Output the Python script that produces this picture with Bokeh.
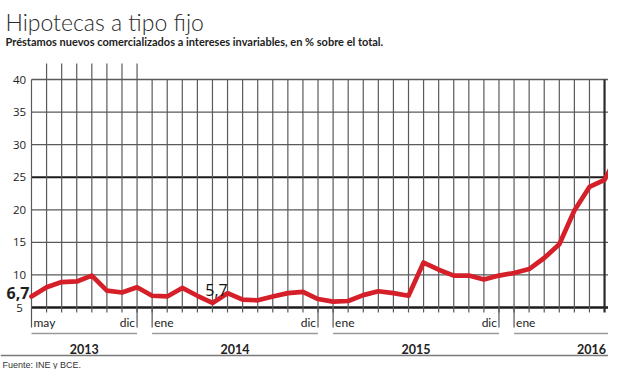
from bokeh.plotting import figure
from bokeh.models import Range1d, ColumnDataSource
from bokeh.embed import file_html
from bokeh.resources import INLINE
from bokeh.core.properties import value

# ---------------- data ----------------
titulo = "Hipotecas a tipo fijo"
subtitulo = "Préstamos nuevos comercializados a intereses invariables, en % sobre el total."
fuente = "Fuente: INE y BCE."

# monthly share of fixed-rate mortgages, May 2013 .. Aug 2016 (last one runs past the crop)
hipotecas_fijo = [6.7, 8.1, 8.9, 9.0, 9.9, 7.6, 7.3, 8.1,              # 2013 may-dic
                  6.8, 6.7, 8.0, 6.8, 5.7, 7.2, 6.2, 6.1, 6.7, 7.2, 7.4, 6.3,   # 2014
                  5.9, 6.0, 6.9, 7.5, 7.2, 6.8, 11.9, 10.8, 9.9, 9.9, 9.3, 9.9,  # 2015
                  10.3, 10.9, 12.6, 14.7, 19.9, 23.5, 24.6, 29.0]  # 2016
y_ticks = [5, 10, 15, 20, 25, 30, 35, 40]
anios = ["2013", "2014", "2015", "2016"]
anio_inicio = [0, 8, 20, 32]       # month index of first month shown for each year
anio_fin = [7, 19, 31, 43]         # month index of december of each year
mes_inicio = ["may", "ene", "ene", "ene"]
mes_fin = ["dic", "dic", "dic", None]
puntos_marcados = [0, 12]          # months whose value is written on the chart

# ---------------- layout ----------------
W, H = 608, 369
K = 15.08            # px per month
PPU = 228 / 35       # px per percentage point
X0 = 31              # x of first month
Y5 = 307             # y of the 5 % line


def ix(px):
    return (px - X0) / K


def vy(py):
    return 5 + (Y5 - py) / PPU


p = figure(width=W, height=H, output_backend="svg", toolbar_location=None,
           x_range=Range1d(ix(0), ix(W)), y_range=Range1d(vy(H), vy(0)),
           x_axis_location=None, y_axis_location=None, min_border=0)
p.grid.visible = False
p.outline_line_color = None
p.background_fill_color = "white"
p.border_fill_color = "white"

n_meses = anio_fin[-1] + 1
GRID = "#5a5a5a"

# horizontal grid
for t in y_ticks:
    if t == 5:
        col, w = "#1c1c1c", 2.5
    elif t == 25:
        col, w = "#1c1c1c", 2.0
    else:
        col, w = GRID, 1.3
    p.segment(x0=[0], y0=[t], x1=[n_meses], y1=[t], line_color=col, line_width=w)

# vertical grid (months)
vx, vy0, vy1, vc, vw = [], [], [], [], []
for i in range(n_meses):
    vx.append(i)
    vy0.append(vy(312) if i > 0 else 5)
    vy1.append(vy(63) if 1 <= i <= anio_fin[0] else y_ticks[-1])
    last = (i == len(hipotecas_fijo) - 2)
    vc.append("#2a2a2a" if last else GRID)
    vw.append(2.2 if last else 1.2)
p.segment(x0="x", y0="y0", x1="x", y1="y1", line_color="c", line_width="w",
          source=ColumnDataSource(dict(x=vx, y0=vy0, y1=vy1, c=vc, w=vw)))

# data line
p.line(list(range(len(hipotecas_fijo))), hipotecas_fijo, line_color="#d5202a",
       line_width=4.7, line_join="round", line_cap="round")

# value callouts
fmt = lambda v: ("%.1f" % v).replace(".", ",")
i0 = puntos_marcados[0]
p.text(x=[ix(17.5)], y=[vy(292)], text=[fmt(hipotecas_fijo[i0])],
       text_font=value("Open Sans"), text_font_style="bold", text_font_size="16px",
       text_align="center", text_baseline="alphabetic", text_color="#1e1e1e")
i1 = puntos_marcados[1]
p.text(x=[i1], y=[hipotecas_fijo[i1]], text=[fmt(hipotecas_fijo[i1])],
       x_offset=4, y_offset=-13,
       text_font=value("Open Sans"), text_font_size="16px",
       text_align="center", text_baseline="alphabetic", text_color="#111111")

# y tick labels
p.text(x=[ix(19)] * len(y_ticks), y=y_ticks, text=[str(t) for t in y_ticks],
       text_font=value("Open Sans"), text_font_size="11.5px",
       text_align="center", text_baseline="middle", text_color="#222222")

# month separators and labels
sep_x, lab_x, lab_t, lab_a, lab_off = [], [], [], [], []
for a0, a1, m0, m1 in zip(anio_inicio, anio_fin, mes_inicio, mes_fin):
    sep_x.append(a0); lab_x.append(a0); lab_t.append(m0); lab_a.append("left"); lab_off.append(2)
    if m1 is not None:
        sep_x.append(a1); lab_x.append(a1); lab_t.append(m1); lab_a.append("right"); lab_off.append(-2)
p.segment(x0=sep_x, y0=[5] * len(sep_x), x1=sep_x, y1=[vy(327)] * len(sep_x),
          line_color="#555555", line_width=1.2)
p.text(x="x", y=vy(322), text="t", text_align="a", x_offset="o",
       source=ColumnDataSource(dict(x=lab_x, t=lab_t, a=lab_a, o=lab_off)),
       text_font=value("Lato"), text_font_size="12px",
       text_baseline="alphabetic", text_color="#222222")

# year brackets and labels (kept inside the visible width)
p.segment(x0=anio_inicio, y0=[vy(333)] * 4, x1=anio_fin, y1=[vy(333)] * 4,
          line_color="#9a9a9a", line_width=1.5)
x_max_label = ix(W - 17)
p.text(x=[min((a + b) / 2, x_max_label) for a, b in zip(anio_inicio, anio_fin)],
       y=[vy(348)] * 4, text=anios,
       text_font=value("Lato"), text_font_style="bold", text_font_size="12.5px",
       text_align="center", text_baseline="alphabetic", text_color="#222222")

# footer rule + source
p.segment(x0=[ix(0)], y0=[vy(355)], x1=[ix(W)], y1=[vy(355)],
          line_color="#7a7a7a", line_width=1.3)
p.text(x=[ix(2)], y=[vy(364.5)], text=[fuente],
       text_font=value("Liberation Sans"), text_font_size="9px",
       text_align="left", text_baseline="alphabetic", text_color="#333333")

# title + subtitle
p.text(x=[ix(5)], y=[vy(21.5)], text=[titulo],
       text_font=value("Lato Light"), text_font_size="23px",
       text_align="left", text_baseline="alphabetic", text_color="#2a2a2a")
p.text(x=[ix(5)], y=[vy(40.5)], text=[subtitulo],
       text_font=value("Lato"), text_font_style="bold", text_font_size="11px",
       text_align="left", text_baseline="alphabetic", text_color="#222222")

open("out.html", "w").write(file_html(p, INLINE))
